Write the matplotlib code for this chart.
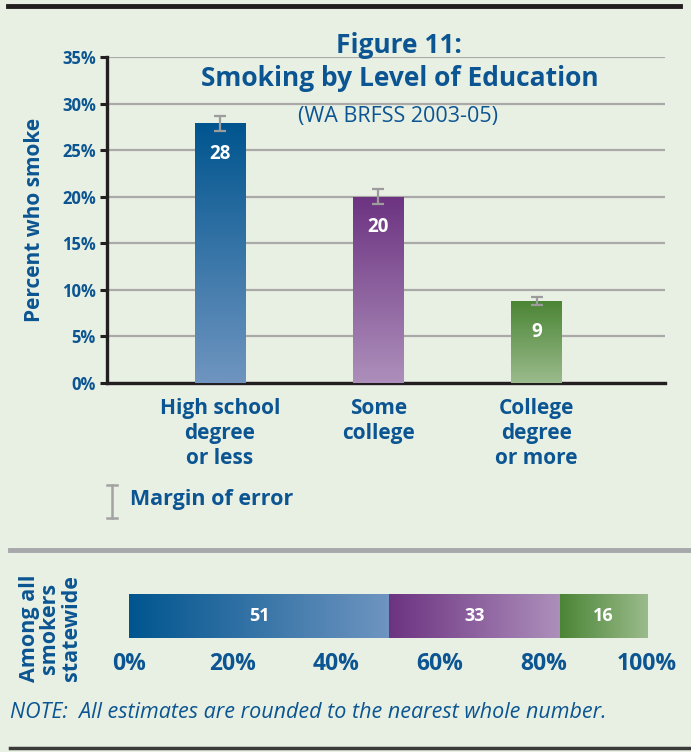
import numpy as np
import matplotlib.pyplot as plt
from matplotlib.colors import LinearSegmentedColormap
from matplotlib.lines import Line2D

# data
categories = ['High school\ndegree\nor less', 'Some\ncollege', 'College\ndegree\nor more']
smoke_pct = [27.9, 20.0, 8.8]
smoke_err = [0.8, 0.8, 0.4]
smoke_labels = ['28', '20', '9']
share_pct = [50.2, 33.0, 16.8]
share_labels = ['51', '33', '16']
yticks = [0, 5, 10, 15, 20, 25, 30, 35]
xticks_share = [0, 20, 40, 60, 80, 100]

BG = '#e8efe3'
BLUE_TXT = '#0b5592'
GRID = '#a9aaa8'
grads = [('#00558f', '#6f95c0'), ('#6c3381', '#ad8fbb'), ('#4b8535', '#9bbb8c')]

plt.rcParams['font.family'] = ['Open Sans', 'DejaVu Sans']

fig = plt.figure(figsize=(6.91, 7.52), dpi=100, facecolor=BG)


def grad_fill(ax, patch, c0, c1, vertical=True):
    cmap = LinearSegmentedColormap.from_list('g', [c0, c1])
    x0, y0 = patch.get_x(), patch.get_y()
    w, h = patch.get_width(), patch.get_height()
    if vertical:
        arr = np.linspace(0, 1, 256).reshape(-1, 1)
    else:
        arr = np.linspace(0, 1, 256).reshape(1, -1)
    im = ax.imshow(arr, cmap=cmap, aspect='auto', extent=[x0, x0 + w, y0, y0 + h],
                   origin='upper', zorder=patch.get_zorder(), interpolation='bilinear')
    im.set_clip_path(patch)
    patch.set_facecolor('none')


# main chart
ax = fig.add_axes([0.1549, 0.4907, 0.8075, 0.4335])
ax.set_facecolor(BG)
x = np.arange(len(categories))
bars = ax.bar(x, smoke_pct, width=0.32, zorder=3, linewidth=0)
for b, (c0, c1) in zip(bars, grads):
    grad_fill(ax, b, c0, c1, vertical=True)
ax.errorbar(x, smoke_pct, yerr=smoke_err, fmt='none', ecolor='#9c9c9c', elinewidth=1.6,
            capsize=4.5, capthick=1.6, zorder=5)
for xi, v, lab in zip(x, smoke_pct, smoke_labels):
    ax.annotate(lab, (xi, v), xytext=(0, -22), textcoords='offset points', ha='center', va='center',
                color='white', fontsize=13.5, fontweight='bold', zorder=6)

ax.set_xlim(-0.713, 2.81)
ax.set_ylim(0, 35)
ax.set_yticks(yticks)
ax.set_yticklabels([f'{t}%' for t in yticks], color=BLUE_TXT, fontsize=12, fontweight='bold')
ax.yaxis.grid(True, color=GRID, linewidth=1.6, zorder=0)
ax.set_axisbelow(True)
ax.set_xticks(x)
ax.set_xticklabels(categories, color=BLUE_TXT, fontsize=15, fontweight='bold', linespacing=1.25)
ax.tick_params(axis='x', length=0, pad=11)
ax.tick_params(axis='y', length=5, width=2.2, color='#231f20', pad=3)
for s in ['top', 'right']:
    ax.spines[s].set_visible(False)
for s in ['left', 'bottom']:
    ax.spines[s].set_color('#231f20')
    ax.spines[s].set_linewidth(2.4)
ax.set_ylabel('Percent who smoke', color=BLUE_TXT, fontsize=15, fontweight='bold', labelpad=12)

fig.text(0.578, 0.940, 'Figure 11:', ha='center', va='center', color=BLUE_TXT, fontsize=19, fontweight='bold')
fig.text(0.578, 0.896, 'Smoking by Level of Education', ha='center', va='center', color=BLUE_TXT,
         fontsize=19, fontweight='bold')
fig.text(0.576, 0.845, '(WA BRFSS 2003-05)', ha='center', va='center', color=BLUE_TXT, fontsize=15.5)

# margin of error legend
fig.add_artist(Line2D([112 / 691, 112 / 691], [1 - 485 / 752, 1 - 518 / 752], color='#a3a3a3', lw=1.8))
fig.add_artist(Line2D([107 / 691, 117 / 691], [1 - 485 / 752, 1 - 485 / 752], color='#a3a3a3', lw=1.8))
fig.add_artist(Line2D([107 / 691, 117 / 691], [1 - 518 / 752, 1 - 518 / 752], color='#a3a3a3', lw=1.8))
fig.text(130 / 691, 1 - 500 / 752, 'Margin of error', ha='left', va='center', color=BLUE_TXT,
         fontsize=15.5, fontweight='bold')

# rules
fig.add_artist(Line2D([8 / 691, 680 / 691], [1 - 6 / 752, 1 - 6 / 752], color='#231f20', lw=3.5))
fig.add_artist(Line2D([10 / 691, 1.0], [1 - 550 / 752, 1 - 550 / 752], color='#a6a8ab', lw=3.5))
fig.add_artist(Line2D([10 / 691, 1.0], [1 - 748 / 752, 1 - 748 / 752], color='#3a3a3a', lw=2.5))

# stacked share bar
ax2 = fig.add_axes([129 / 691, 1 - 638 / 752, 518 / 691, 44 / 752])
ax2.set_facecolor(BG)
left = 0
for v, lab, (c0, c1) in zip(share_pct, share_labels, grads):
    b = ax2.barh(0, v, left=left, height=1, linewidth=0, zorder=3)[0]
    grad_fill(ax2, b, c0, c1, vertical=False)
    ax2.text(left + v / 2, 0, lab, ha='center', va='center', color='white', fontsize=13,
             fontweight='bold', zorder=6)
    left += v
ax2.set_xlim(0, 100)
ax2.set_ylim(-0.5, 0.5)
ax2.set_xticks(xticks_share)
ax2.set_xticklabels([f'{t}%' for t in xticks_share], color=BLUE_TXT, fontsize=16.5, fontweight='bold')
ax2.tick_params(axis='x', length=0, pad=10)
ax2.set_yticks([])
for s in ax2.spines.values():
    s.set_visible(False)

fig.text(50 / 691, 1 - 628 / 752, 'Among all\nsmokers\nstatewide', rotation=90, ha='center', va='center',
         color=BLUE_TXT, fontsize=15.5, fontweight='bold', linespacing=1.0)

fig.text(10 / 691, 1 - 713 / 752, 'NOTE:  All estimates are rounded to the nearest whole number.',
         ha='left', va='center', color=BLUE_TXT, fontsize=15.5, style='italic')

fig.savefig('out.png', dpi=100, facecolor=BG)
